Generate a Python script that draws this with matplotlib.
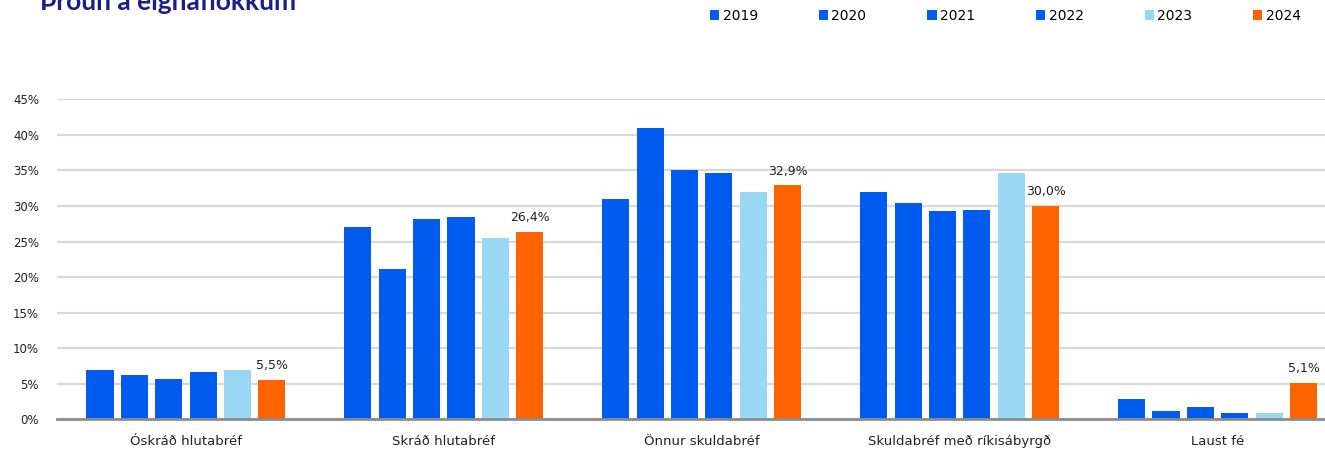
import matplotlib
matplotlib.use("Agg")
import matplotlib.pyplot as plt
import numpy as np

# flokkar og hlutföll (%) eftir árum
categories = ["Óskráð hlutabréf", "Skráð hlutabréf", "Önnur skuldabréf",
              "Skuldabréf með ríkisábyrgð", "Laust fé"]
years = ["2019", "2020", "2021", "2022", "2023", "2024"]
v2019 = [7.0, 27.0, 31.0, 31.9, 2.9]
v2020 = [6.2, 21.2, 41.0, 30.4, 1.1]
v2021 = [5.6, 28.1, 35.1, 29.3, 1.8]
v2022 = [6.7, 28.4, 34.6, 29.4, 0.9]
v2023 = [6.9, 25.5, 31.9, 34.6, 0.9]
v2024 = [5.5, 26.4, 32.9, 30.0, 5.1]
series = [v2019, v2020, v2021, v2022, v2023, v2024]
colors = ["#005BEE", "#005BEE", "#005BEE", "#005BEE", "#99D7F4", "#FF6300"]
yticks = [0, 5, 10, 15, 20, 25, 30, 35, 40, 45]

W, H = 1325, 450
fig = plt.figure(figsize=(W / 100, H / 100), dpi=100)
ax = fig.add_axes([57 / W, 30.7 / H, (1346.5 - 57) / W, 320 / H])

x = np.arange(len(categories))
step, bw = 0.1333, 0.105
handles = []
for j, (vals, col, yr) in enumerate(zip(series, colors, years)):
    b = ax.bar(x + (j - 2.5) * step, vals, bw, color=col, label=yr, zorder=3)
    handles.append(b)

# gildi fyrir 2024
for xi, v in zip(x, v2024):
    ax.text(xi + 2.5 * step, v + 1.1, f"{v:.1f}%".replace(".", ","),
            ha="center", va="bottom", fontsize=9, color="#222222")

ax.set_xlim(-0.5, len(categories) - 0.5)
ax.set_ylim(0, 45)
ax.set_yticks(yticks)
ax.set_yticklabels([f"{t}%" for t in yticks], fontsize=8.5, color="#222222")
ax.set_xticks(x)
ax.set_xticklabels(categories, fontsize=9.5, color="#222222")
ax.tick_params(axis="both", length=0)
ax.tick_params(axis="y", pad=13)
ax.tick_params(axis="x", pad=11)
ax.grid(axis="y", color="#D9D9D9", linewidth=1.6, zorder=0)
for s in ["top", "right", "left"]:
    ax.spines[s].set_visible(False)
ax.spines["bottom"].set_color("#8C8C8C")
ax.spines["bottom"].set_linewidth(2)
ax.spines["bottom"].set_zorder(4)

fig.legend(handles=handles, loc="center left", bbox_to_anchor=(710 / W, 1 - 16 / H),
           ncol=6, frameon=False, fontsize=10, handlelength=0.65, handleheight=0.65,
           handletextpad=0.25, columnspacing=4.4, borderpad=0, borderaxespad=0)

fig.text(40 / W, 1 - 10 / H, "Þróun á eignaflokkum", fontsize=19, fontweight="bold",
         family="Lato", color="#1A1E86", ha="left", va="baseline")

fig.savefig("out.png", dpi=100)
